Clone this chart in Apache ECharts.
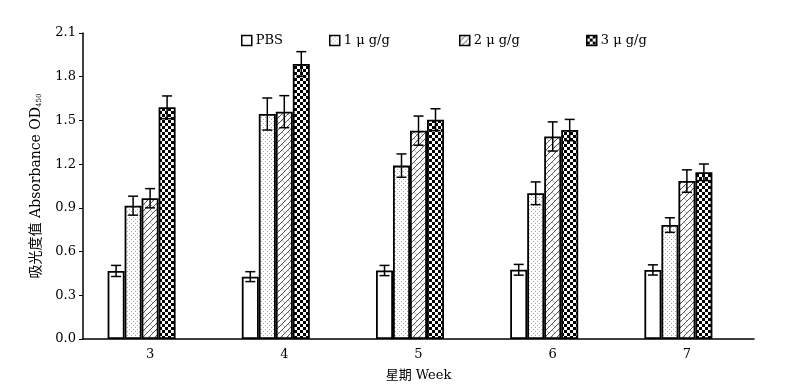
<!DOCTYPE html>
<html>
<head>
<meta charset="utf-8">
<script src="https://cdn.jsdelivr.net/npm/echarts@6/dist/echarts.min.js"></script>
<style>
  html, body { margin: 0; padding: 0; background: #fff; }
  #chart { width: 807px; height: 392px; }
</style>
</head>
<body>
<div id="chart"></div>
<script>
var weeks = ['3', '4', '5', '6', '7'];
var groupNames = ['PBS', '1 μ g/g', '2 μ g/g', '3 μ g/g'];
var pbs = [0.467, 0.428, 0.47, 0.475, 0.474];
var dose1 = [0.915, 1.544, 1.19, 1.0, 0.782];
var dose2 = [0.966, 1.56, 1.43, 1.39, 1.084];
var dose3 = [1.59, 1.887, 1.505, 1.434, 1.144];
var pbsErr = [0.038, 0.034, 0.035, 0.037, 0.035];
var dose1Err = [0.065, 0.11, 0.08, 0.078, 0.05];
var dose2Err = [0.066, 0.11, 0.1, 0.1, 0.077];
var dose3Err = [0.078, 0.085, 0.075, 0.073, 0.057];
var yTicks = [0, 0.3, 0.6, 0.9, 1.2, 1.5, 1.8, 2.1];

var FONT = '"DejaVu Serif", "Noto Sans CJK SC", serif';
var BAR_W = 17;

// fill patterns drawn on small canvases
function makePattern(w, h, draw) {
  var c = document.createElement('canvas');
  c.width = w; c.height = h;
  var ctx = c.getContext('2d');
  ctx.fillStyle = '#fff';
  ctx.fillRect(0, 0, w, h);
  draw(ctx);
  return { image: c, repeat: 'repeat' };
}
var dots = makePattern(4, 4, function (ctx) {
  ctx.fillStyle = '#aaa';
  ctx.fillRect(1, 1, 1, 1);
  ctx.fillRect(3, 3, 1, 1);
});
var hatch = makePattern(6, 6, function (ctx) {
  ctx.strokeStyle = '#555';
  ctx.lineWidth = 1;
  ctx.beginPath();
  ctx.moveTo(-1, 7); ctx.lineTo(7, -1);
  ctx.stroke();
  ctx.strokeStyle = '#bbb';
  ctx.beginPath();
  ctx.moveTo(0, 0); ctx.lineTo(3, 3);
  ctx.stroke();
});
var checker = makePattern(6, 6, function (ctx) {
  ctx.fillStyle = '#000';
  ctx.fillRect(0, 0, 3, 3);
  ctx.fillRect(3, 3, 3, 3);
});

var fills = ['#fff', dots, hatch, checker];
var values = [pbs, dose1, dose2, dose3];
var errs = [pbsErr, dose1Err, dose2Err, dose3Err];

function barSeries(i) {
  return {
    name: groupNames[i],
    type: 'bar',
    data: values[i],
    barWidth: BAR_W,
    barGap: '0%',
    itemStyle: { color: fills[i], borderColor: '#000', borderWidth: 1.8 },
    z: 2
  };
}

function errSeries(i) {
  var data = weeks.map(function (w, k) { return [k, values[i][k], errs[i][k]]; });
  var offset = (i - 2) * BAR_W;
  return {
    type: 'custom',
    silent: true,
    z: 5,
    data: data,
    encode: { x: 0, y: 1 },
    renderItem: function (params, api) {
      var x = api.coord([api.value(0), 0])[0] + offset;
      var top = api.coord([api.value(0), api.value(1) + api.value(2)])[1];
      var bot = api.coord([api.value(0), api.value(1) - api.value(2)])[1];
      var cap = 5;
      var st = { stroke: '#000', lineWidth: 1.5 };
      return {
        type: 'group',
        children: [
          { type: 'line', shape: { x1: x, y1: top, x2: x, y2: bot }, style: st },
          { type: 'line', shape: { x1: x - cap, y1: top, x2: x + cap, y2: top }, style: st },
          { type: 'line', shape: { x1: x - cap, y1: bot, x2: x + cap, y2: bot }, style: st }
        ]
      };
    }
  };
}

var series = [0, 1, 2, 3].map(barSeries);
// empty fifth slot, keeps the groups left of the category centre as in the source
series.push({ type: 'bar', name: 'spacer', data: weeks.map(function () { return '-'; }), barWidth: BAR_W, barGap: '0%', silent: true });
[0, 1, 2, 3].forEach(function (i) { series.push(errSeries(i)); });

var legendLeft = [236, 324, 454, 581];
var legends = groupNames.map(function (n, i) {
  return {
    data: [n],
    left: legendLeft[i],
    top: 29,
    itemWidth: 10,
    itemHeight: 10,
    itemGap: 5,
    icon: 'rect',
    itemStyle: { borderColor: '#000', borderWidth: 1.5 },
    textStyle: { fontFamily: FONT, fontSize: 13, color: '#000', padding: [0, 0, 0, -1] }
  };
});

var chart = echarts.init(document.getElementById('chart'));
chart.setOption({
  animation: false,
  backgroundColor: '#fff',
  legend: legends,
  grid: { left: 83, right: 53, top: 33, bottom: 53 },
  xAxis: {
    type: 'category',
    data: weeks,
    name: '星期 Week',
    nameLocation: 'middle',
    nameGap: 30,
    nameTextStyle: { fontFamily: FONT, fontSize: 13, color: '#000' },
    axisLine: { lineStyle: { color: '#000', width: 1.5 } },
    axisTick: { show: false },
    axisLabel: { fontFamily: FONT, fontSize: 13, color: '#000', margin: 9 }
  },
  yAxis: {
    type: 'value',
    min: 0,
    max: 2.1,
    interval: 0.3,
    name: '{a|吸光度值 Absorbance OD}{s|450}',
    nameLocation: 'middle',
    nameGap: 40,
    nameRotate: 90,
    nameTextStyle: {
      rich: {
        a: { fontFamily: FONT, fontSize: 14, color: '#000', verticalAlign: 'bottom' },
        s: { fontFamily: FONT, fontSize: 7, color: '#000', verticalAlign: 'bottom', padding: [6, 0, 0, 0] }
      }
    },
    axisLine: { show: true, lineStyle: { color: '#000', width: 1.5 } },
    axisTick: { show: true, length: 4, lineStyle: { color: '#000' } },
    splitLine: { show: false },
    axisLabel: {
      fontFamily: FONT, fontSize: 13, color: '#000', margin: 7,
      formatter: function (v) { return yTicks.indexOf(Math.round(v * 10) / 10) >= 0 ? v.toFixed(1) : ''; }
    }
  },
  series: series
});
</script>
</body>
</html>
